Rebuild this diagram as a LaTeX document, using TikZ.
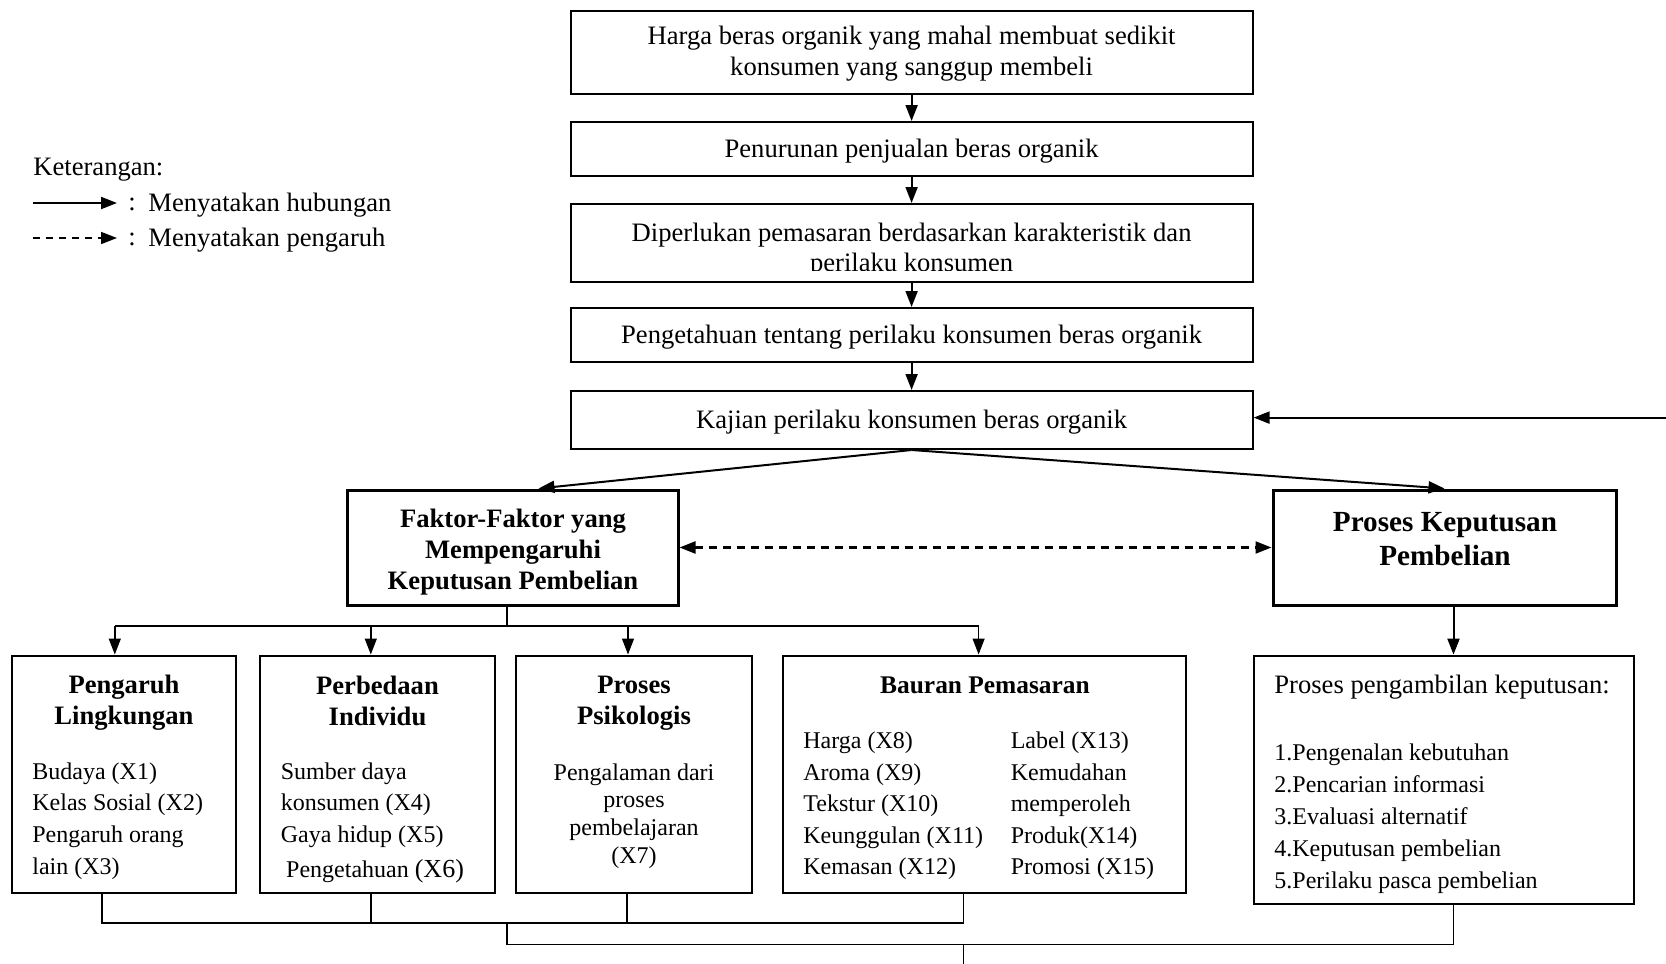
\documentclass[tikz,border=0pt]{standalone}
\usepackage{fontspec}
\setmainfont{Liberation Serif}
\usetikzlibrary{arrows.meta,calc}
% font sizes used in the chart
\newcommand\fTop{\fontsize{13.3}{15.5}\selectfont}
\newcommand\fHead{\fontsize{13.3}{15.5}\selectfont\bfseries}
\newcommand\fBig{\fontsize{14.6}{17}\selectfont\bfseries}
\newcommand\fSub{\fontsize{12.7}{15}\selectfont\bfseries}
\newcommand\fList{\fontsize{12}{15.8}\selectfont}
\begin{document}
\begin{tikzpicture}[x=0.5pt,y=-0.5pt,
  box/.style={draw,line width=1pt,inner sep=0pt},
  topbox/.style={box,minimum width=341pt},
  heavybox/.style={draw,line width=1.5pt,inner sep=0pt},
  txt/.style={inner sep=0pt,yshift=-1pt},
  tip/.style={-{Triangle[length=8pt,width=6pt]}},
  arr/.style={tip,line width=1pt},
  link/.style={line width=0.7pt},
  linkarr/.style={tip,line width=0.7pt},
  dasharr/.style={{Triangle[length=8pt,width=6pt]}-{Triangle[length=8pt,width=6pt]},line width=1.1pt,dash pattern=on 4pt off 3pt}]
\useasboundingbox (0,0) rectangle (1666,964);

% legend
\node[txt,anchor=west,font=\fTop] (ket) at (33,168) {Keterangan:};
\coordinate (la1) at (33,203);
\coordinate (lb1) at (117,203);
\coordinate (la2) at (33,238);
\coordinate (lb2) at (117,238);
\draw[arr] (la1) -- (lb1);
\draw[tip,line width=0.8pt,dash pattern=on 3.5pt off 3pt] (la2) -- (lb2);
\node[txt,font=\fTop] (c1) at (132,202) {:};
\node[txt,font=\fTop] (c2) at (132,237) {:};
\node[txt,anchor=west,font=\fTop] (l1) at (148,203) {Menyatakan hubungan};
\node[txt,anchor=west,font=\fTop] (l2) at (148,238) {Menyatakan pengaruh};

% main chain
\node[topbox,minimum height=41.5pt] (b1) at (911.6,52) {};
\node[topbox,minimum height=27pt] (b2) at (911.6,149) {};
\node[topbox,minimum height=39pt] (b3) at (911.6,243) {};
\node[topbox,minimum height=27pt] (b4) at (911.6,335) {};
\node[topbox,minimum height=29pt] (b5) at (911.6,420) {};

\node[txt,align=center,font=\fTop] (t1) at (b1) {Harga beras organik yang mahal membuat sedikit\\konsumen yang sanggup membeli};
\node[txt,font=\fTop] (t2) at (b2) {Penurunan penjualan beras organik};
\begin{scope}
  \clip (571,205) rectangle (1252,270);
  \node[txt,align=center,font=\fontsize{13.3}{15}\selectfont] (t3) at (911.6,248) {Diperlukan pemasaran berdasarkan karakteristik dan\\perilaku konsumen};
\end{scope}
\node[txt,font=\fTop] (t4) at (b4) {Pengetahuan tentang perilaku konsumen beras organik};
\node[txt,font=\fTop] (t5) at (b5) {Kajian perilaku konsumen beras organik};

\draw[arr] (b1.south) -- (b2.north);
\draw[arr] (b2.south) -- (b3.north);
\draw[arr] (b3.south) -- (b4.north);
\draw[arr] (b4.south) -- (b5.north);
\coordinate (fb) at (1666,417.6);
\draw[arr] (fb) -- (fb -| b5.east);

% two branches
\node[heavybox,minimum width=165.5pt,minimum height=57.5pt] (f) at (512.5,547.5) {};
\node[txt,align=center,font=\fHead] (ft) at (513,550) {Faktor-Faktor yang\\Mempengaruhi\\Keputusan Pembelian};
\node[heavybox,minimum width=171.5pt,minimum height=57.5pt] (p) at (1444.5,547.5) {};
\node[txt,align=center,font=\fBig] (pt) at (1445,537) {Proses Keputusan\\Pembelian};

\draw[arr] (b5.south) -- ([xshift=13pt]f.north);
\draw[arr] (b5.south) -- (p.north);
\draw[dasharr] (f.east) -- (p.west);

% factor boxes
\node[box,minimum width=112.1pt,minimum height=118.5pt] (pl) at (123.8,774) {};
\node[box,minimum width=117.5pt,minimum height=118.5pt] (pi) at (377.5,774) {};
\node[box,minimum width=118pt,minimum height=118.5pt] (pp) at (634,774) {};
\node[box,minimum width=201.5pt,minimum height=118.5pt] (bp) at (984.5,774) {};
\node[box,minimum width=190pt,minimum height=124.2pt] (pk) at (1444,779.8) {};

\node[txt,align=center,font=\fHead] (plh) at (124,701) {Pengaruh\\Lingkungan};
\node[txt,align=left,anchor=west,font=\fList] (plt) at (32,819) {Budaya (X1)\\Kelas Sosial (X2)\\Pengaruh orang\\lain (X3)};

\node[txt,align=center,font=\fHead] (pih) at (377.5,699) {Perbedaan\\Individu};
\node[txt,align=left,anchor=west,font=\fList] (pit) at (280.5,803) {Sumber daya\\konsumen (X4)\\Gaya hidup (X5)};
\node[txt,anchor=west,font=\fList] (pix) at (285.8,869) {Pengetahuan {\fontsize{13}{15}\selectfont(X6)}};

\node[txt,align=center,font=\fHead] (pph) at (634,701) {Proses\\Psikologis};
\node[txt,align=center,font=\fontsize{12}{13.8}\selectfont] (ppt) at (634,814) {Pengalaman dari\\proses\\pembelajaran\\(X7)};

\node[txt,font=\fSub] (bph) at (985,683) {Bauran Pemasaran};
\node[txt,align=left,anchor=west,font=\fList] (bpl) at (803,804) {Harga (X8)\\Aroma (X9)\\Tekstur (X10)\\Keunggulan (X11)\\Kemasan (X12)};
\node[txt,align=left,anchor=west,font=\fList] (bpr) at (1010.4,804) {Label (X13)\\Kemudahan\\memperoleh\\Produk(X14)\\Promosi (X15)};

\node[txt,anchor=west,font=\fTop] (pkh) at (1274,685) {Proses pengambilan keputusan:};
\node[txt,align=left,anchor=west,font=\fontsize{12}{16}\selectfont] (pkt) at (1274,817) {1.Pengenalan kebutuhan\\2.Pencarian informasi\\3.Evaluasi alternatif\\4.Keputusan pembelian\\5.Perilaku pasca pembelian};

% split below the factor box
\coordinate (fj) at (507,626);
\coordinate (s1) at (114.8,626);
\coordinate (s2) at (370.8,626);
\coordinate (s3) at (628,626);
\coordinate (s4) at (978.6,626);
\draw[link] (fj |- f.south) -- (fj);
\draw[link] (s1) -- (s4);
\draw[linkarr] (s1) -- (s1 |- pl.north);
\draw[linkarr] (s2) -- (s2 |- pi.north);
\draw[linkarr] (s3) -- (s3 |- pp.north);
\draw[linkarr] (s4) -- (s4 |- bp.north);

\coordinate (pa) at (1453.5,600);
\draw[arr] (pa |- p.south) -- (pa |- pk.north);

% joining lines at the bottom
\coordinate (j1) at (102,923);
\coordinate (j2) at (370.8,923);
\coordinate (j3) at (627,923);
\coordinate (j4) at (963.7,923);
\draw[link] (j1 |- pl.south) -- (j1) -- (j4) -- (j4 |- bp.south);
\draw[link] (j2 |- pi.south) -- (j2);
\draw[link] (j3 |- pp.south) -- (j3);
\coordinate (d1) at (507,944.6);
\coordinate (d2) at (1453.5,944.6);
\coordinate (dout) at (963.7,964);
\draw[link] (d1 |- j1) -- (d1) -- (d2) -- (d2 |- pk.south);
\draw[link] (dout |- d1) -- (dout);
\end{tikzpicture}
\end{document}
